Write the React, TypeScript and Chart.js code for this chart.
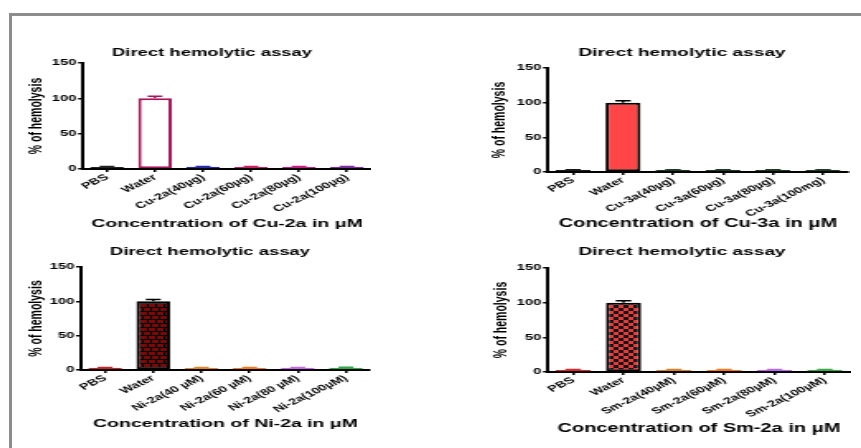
import React, { useEffect, useRef } from 'react';
import Chart from 'chart.js/auto';

// ---------- data ----------
const chartTitle = 'Direct hemolytic assay';
const yAxisTitle = '% of hemolysis';
const yMin = 0;
const yMax = 150;
const yStep = 50;

const cu2aLabels = ['PBS', 'Water', 'Cu-2a(40µg)', 'Cu-2a(60µg)', 'Cu-2a(80µg)', 'Cu-2a(100µg)'];
const cu2aValues = [3.0, 100, 3.1, 2.9, 3.0, 3.1];
const cu2aErrors = [0.5, 2.8, 0.5, 0.5, 0.5, 0.5];
const cu2aXTitle = 'Concentration of Cu-2a in μM';

const cu3aLabels = ['PBS', 'Water', 'Cu-3a(40µg)', 'Cu-3a(60µg)', 'Cu-3a(80µg)', 'Cu-3a(100mg)'];
const cu3aValues = [2.9, 100, 2.9, 2.9, 2.9, 2.9];
const cu3aErrors = [0.5, 2.6, 0.5, 0.5, 0.5, 0.5];
const cu3aXTitle = 'Concentration of Cu-3a in μM';

const ni2aLabels = ['PBS', 'Water', 'Ni-2a(40 µM)', 'Ni-2a(60 µM)', 'Ni-2a(80 µM)', 'Ni-2a(100µM)'];
const ni2aValues = [3.1, 100, 3.0, 3.0, 3.2, 3.4];
const ni2aErrors = [0.5, 2.8, 0.5, 0.5, 0.5, 0.5];
const ni2aXTitle = 'Concentration of Ni-2a in μM';

const sm2aLabels = ['PBS', 'Water', 'Sm-2a(40µM)', 'Sm-2a(60µM)', 'Sm-2a(80µM)', 'Sm-2a(100µM)'];
const sm2aValues = [3.0, 100, 3.0, 3.0, 3.1, 3.1];
const sm2aErrors = [0.5, 2.6, 0.5, 0.5, 0.5, 0.5];
const sm2aXTitle = 'Concentration of Sm-2a in μM';

// ---------- styling / layout ----------
const S = 1.65; // horizontal stretch of the original figure
const FONT = '"Liberation Sans", Arial, Helvetica, sans-serif';

type PanelCfg = {
  labels: string[];
  values: number[];
  errors: number[];
  xTitle: string;
  left: number;
  top: number;
  yAxisX: number;
  xAxisEnd: number;
  top150: number;
  zeroY: number;
  titleCy: number;
  titleCx: number;
  yTitleCx: number;
  xTitleCy: number;
  titleSize: number;
  xTitleSize: number;
  fills: string[];
  borders: string[];
  errColors: string[];
};

const panels: PanelCfg[] = [
  {
    labels: cu2aLabels, values: cu2aValues, errors: cu2aErrors, xTitle: cu2aXTitle,
    left: 15, top: 40, yAxisX: 83, xAxisEnd: 371, top150: 63, zeroY: 169,
    titleCy: 53, titleCx: 212, yTitleCx: 37, xTitleCy: 224, titleSize: 11.2, xTitleSize: 11.8,
    fills: ['#ffffff', '#ffffff', '#ffffff', '#ffffff', '#ffffff', '#ffffff'],
    borders: ['#222222', '#A8165A', '#2A2AA8', '#C8205E', '#C02084', '#7C2EA0'],
    errColors: ['#222222', '#A8165A', '#2A2AA8', '#C8205E', '#C02084', '#7C2EA0'],
  },
  {
    labels: cu3aLabels, values: cu3aValues, errors: cu3aErrors, xTitle: cu3aXTitle,
    left: 470, top: 40, yAxisX: 548, xAxisEnd: 848, top150: 68, zeroY: 172,
    titleCy: 53, titleCx: 682, yTitleCx: 500, xTitleCy: 224, titleSize: 11.6, xTitleSize: 12.1,
    fills: ['#3a4a3e', '#FF4545', '#2F6B40', '#2F6B40', '#2F6B40', '#2F6B40'],
    borders: ['#1a1a1a', '#000000', '#1F3A25', '#1F3A25', '#1F3A25', '#1F3A25'],
    errColors: ['#1a1a1a', '#000000', '#1F3A25', '#1F3A25', '#1F3A25', '#1F3A25'],
  },
  {
    labels: ni2aLabels, values: ni2aValues, errors: ni2aErrors, xTitle: ni2aXTitle,
    left: 15, top: 239, yAxisX: 81, xAxisEnd: 370, top150: 267, zeroY: 370,
    titleCy: 252, titleCx: 210, yTitleCx: 36, xTitleCy: 423.5, titleSize: 11.2, xTitleSize: 11.8,
    fills: ['#E06A6A', 'brick', '#F0A050', '#F5954A', '#D890F0', '#5CC070'],
    borders: ['#C0282C', '#000000', '#E0862A', '#F07A22', '#C468E8', '#2EA84A'],
    errColors: ['#C0282C', '#000000', '#E0862A', '#F07A22', '#C468E8', '#2EA84A'],
  },
  {
    labels: sm2aLabels, values: sm2aValues, errors: sm2aErrors, xTitle: sm2aXTitle,
    left: 470, top: 239, yAxisX: 548, xAxisEnd: 850, top150: 268, zeroY: 372,
    titleCy: 252, titleCx: 682, yTitleCx: 502, xTitleCy: 429, titleSize: 11.6, xTitleSize: 12.1,
    fills: ['#E86060', 'checker', '#E8A050', '#F5954A', '#D090F0', '#60C070'],
    borders: ['#D82B2B', '#000000', '#D8802A', '#F07A20', '#B86AE8', '#3AAA4A'],
    errColors: ['#D82B2B', '#000000', '#D8802A', '#F07A20', '#B86AE8', '#3AAA4A'],
  },
];

function makeBrick(ctx: CanvasRenderingContext2D): CanvasPattern | string {
  const c = document.createElement('canvas');
  c.width = 10;
  c.height = 8;
  const g = c.getContext('2d')!;
  g.fillStyle = '#7A0A0A';
  g.fillRect(0, 0, 10, 8);
  g.fillStyle = '#000000';
  g.fillRect(0, 0, 10, 1);
  g.fillRect(0, 4, 10, 1);
  g.fillRect(0, 0, 1, 4);
  g.fillRect(5, 0, 1, 4);
  g.fillRect(2, 4, 1, 4);
  g.fillRect(7, 4, 1, 4);
  return ctx.createPattern(c, 'repeat') || '#7A0A0A';
}

function makeChecker(ctx: CanvasRenderingContext2D): CanvasPattern | string {
  const c = document.createElement('canvas');
  c.width = 6;
  c.height = 6;
  const g = c.getContext('2d')!;
  g.fillStyle = '#E8393B';
  g.fillRect(0, 0, 6, 6);
  g.fillStyle = '#141414';
  g.fillRect(3, 0, 3, 3);
  g.fillRect(0, 3, 3, 3);
  return ctx.createPattern(c, 'repeat') || '#E8393B';
}

function geometry(p: PanelCfg) {
  const rightU = (p.xAxisEnd - p.left) / S;
  const w = Math.ceil(rightU);
  const padRight = w - rightU;
  const yW = (p.yAxisX - p.left) / S;
  const titleLH = p.titleSize * 1.2;
  const titlePadTop = p.titleCy - p.top - titleLH / 2;
  const titlePadBottom = (p.top150 - p.top) - titlePadTop - titleLH;
  const yTitleSize = 10.5;
  const yTitleLH = yTitleSize * 1.2;
  const yTitlePadTop = (p.yTitleCx - p.left) / S - yTitleLH / 2;
  const xTitleLH = p.xTitleSize * 1.2;
  const h = Math.round(p.xTitleCy - p.top + xTitleLH / 2);
  const xH = h - (p.zeroY - p.top);
  const titleCxU = (p.titleCx - p.left) / S;
  return { w, h, padRight, yW, titlePadTop, titlePadBottom, yTitleSize, yTitlePadTop, xH, titleCxU };
}

function Panel({ p }: { p: PanelCfg }) {
  const ref = useRef<HTMLCanvasElement>(null);
  const g = geometry(p);

  useEffect(() => {
    const canvas = ref.current!;
    const ctx = canvas.getContext('2d')!;
    const bg = p.fills.map((f) =>
      f === 'brick' ? makeBrick(ctx) : f === 'checker' ? makeChecker(ctx) : f
    );

    const errorBars = {
      id: 'errorBars',
      afterDatasetsDraw(chart: any) {
        const meta = chart.getDatasetMeta(0);
        const ys = chart.scales.y;
        const c = chart.ctx;
        c.save();
        meta.data.forEach((bar: any, i: number) => {
          const v = p.values[i];
          const e = p.errors[i];
          const yTop = ys.getPixelForValue(v + e);
          const yBase = ys.getPixelForValue(v);
          const half = bar.width * 0.22;
          c.strokeStyle = p.errColors[i];
          c.lineWidth = 1.5;
          c.beginPath();
          c.moveTo(bar.x, yBase);
          c.lineTo(bar.x, yTop);
          c.moveTo(bar.x - half, yTop);
          c.lineTo(bar.x + half, yTop);
          c.stroke();
        });
        c.restore();
      },
    };

    const titleShift = {
      id: 'titleShift',
      afterLayout(chart: any) {
        const t = chart.titleBlock;
        if (t) {
          const dx = g.titleCxU - (t.left + t.right) / 2;
          t.left += dx;
          t.right += dx;
        }
      },
    };

    const chart = new Chart(canvas, {
      type: 'bar',
      data: {
        labels: p.labels,
        datasets: [
          {
            data: p.values,
            backgroundColor: bg as any,
            borderColor: p.borders,
            borderWidth: 2,
            borderSkipped: false,
            barPercentage: 0.7,
            categoryPercentage: 1,
          },
        ],
      },
      options: {
        responsive: false,
        animation: false,
        devicePixelRatio: 1,
        layout: { padding: { left: 0, top: 0, bottom: 0, right: g.padRight } },
        plugins: {
          legend: { display: false },
          tooltip: { enabled: false },
          title: {
            display: true,
            text: chartTitle,
            color: '#000',
            font: { family: FONT, size: p.titleSize, weight: 'bold', lineHeight: 1.2 },
            padding: { top: g.titlePadTop, bottom: g.titlePadBottom },
          },
        },
        scales: {
          x: {
            afterFit: (scale: any) => {
              scale.height = g.xH;
            },
            grid: {
              display: true,
              drawOnChartArea: false,
              drawTicks: true,
              tickLength: 3,
              color: '#000',
              lineWidth: 1.5,
              offset: false,
            },
            border: { display: true, color: '#000', width: 2 },
            ticks: {
              autoSkip: false,
              minRotation: 38,
              maxRotation: 38,
              padding: 0,
              color: '#000',
              font: { family: FONT, size: 8.8, weight: 'bold' },
            },
            title: {
              display: true,
              text: p.xTitle,
              color: '#000',
              font: { family: FONT, size: p.xTitleSize, weight: 'bold', lineHeight: 1.2 },
              padding: { top: 0, bottom: 0 },
            },
          },
          y: {
            min: yMin,
            max: yMax,
            afterFit: (scale: any) => {
              scale.width = g.yW;
            },
            grid: {
              display: true,
              drawOnChartArea: false,
              drawTicks: true,
              tickLength: 3,
              color: '#000',
              lineWidth: 1.5,
            },
            border: { display: true, color: '#000', width: 2 },
            ticks: {
              stepSize: yStep,
              padding: 1,
              color: '#000',
              font: { family: FONT, size: 9, weight: 'bold' },
            },
            title: {
              display: true,
              text: yAxisTitle,
              color: '#000',
              font: { family: FONT, size: g.yTitleSize, weight: 'bold', lineHeight: 1.2 },
              padding: { top: g.yTitlePadTop, bottom: 0 },
            },
          },
        },
      },
      plugins: [errorBars, titleShift],
    });
    return () => chart.destroy();
  }, []);

  return (
    <div
      style={{
        position: 'absolute',
        left: p.left,
        top: p.top,
        width: g.w,
        height: g.h,
        transform: `scaleX(${S})`,
        transformOrigin: '0 0',
      }}
    >
      <canvas ref={ref} width={g.w} height={g.h} style={{ display: 'block', width: g.w, height: g.h }} />
    </div>
  );
}

export default function App() {
  return (
    <div
      style={{
        position: 'fixed',
        left: 0,
        top: 0,
        width: 861,
        height: 448,
        overflow: 'hidden',
        background: '#ffffff',
      }}
    >
      <div
        style={{
          position: 'absolute',
          left: 9,
          top: 13,
          width: 900,
          height: 500,
          borderLeft: '3px solid #8c8c8c',
          borderTop: '3px solid #8c8c8c',
        }}
      />
      {panels.map((p, i) => (
        <Panel key={i} p={p} />
      ))}
    </div>
  );
}
